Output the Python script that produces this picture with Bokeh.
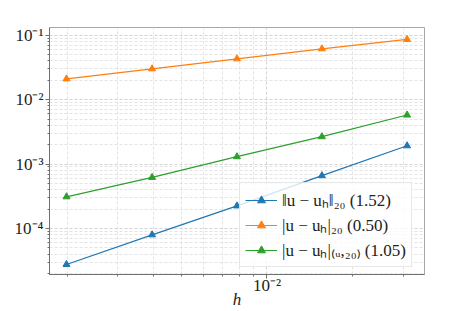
from bokeh.plotting import figure
from bokeh.models import FixedTicker, CustomJSTickFormatter, Range1d
from bokeh.embed import file_html
from bokeh.resources import INLINE

# ---- data ----
h = [0.001984, 0.003958, 0.00785, 0.01558, 0.03097]
err_l2 = [2.76e-5, 7.96e-5, 2.24e-4, 6.6e-4, 1.92e-3]
err_semi = [0.0210, 0.0301, 0.0430, 0.0615, 0.0861]
err_energy = [3.1e-4, 6.2e-4, 1.30e-3, 2.66e-3, 5.77e-3]
series = [err_l2, err_semi, err_energy]
labels = ["\u2016u \u2212 u\u2095\u2016\u2082\u2080 (1.52)",
          "|u \u2212 u\u2095|\u2082\u2080 (0.50)",
          "|u \u2212 u\u2095|\u208d\u1d64,\u2082\u2080\u208e (1.05)"]
colors = ["#1f77b4", "#ff7f0e", "#2ca02c"]
x_label = "h"

x_lo, x_hi = 10 ** -2.762, 10 ** -1.448
y_lo, y_hi = 10 ** -4.715, 10 ** -0.88

FONT = "Liberation Serif"

p = figure(width=457, height=311, x_axis_type="log", y_axis_type="log",
           x_range=Range1d(x_lo, x_hi), y_range=Range1d(y_lo, y_hi),
           output_backend="svg", toolbar_location=None,
           min_border_left=49, min_border_right=33,
           min_border_top=27, min_border_bottom=37)

# ticks
x_major = [1e-2]
x_minor = [k * 10.0 ** e for e in (-3, -2) for k in range(2, 10)]
y_major = [1e-4, 1e-3, 1e-2, 1e-1]
y_minor = [k * 10.0 ** e for e in (-5, -4, -3, -2, -1) for k in range(2, 10)]
p.xaxis.ticker = FixedTicker(ticks=x_major, minor_ticks=x_minor)
p.yaxis.ticker = FixedTicker(ticks=y_major, minor_ticks=y_minor)

fmt = CustomJSTickFormatter(code="""
const e = Math.round(Math.log10(tick));
const sup = {"-":"\u207b","0":"\u2070","1":"\u00b9","2":"\u00b2","3":"\u00b3","4":"\u2074","5":"\u2075","6":"\u2076","7":"\u2077","8":"\u2078","9":"\u2079"};
return "10" + String(e).split("").map(c => sup[c]).join("");
""")
p.xaxis.formatter = fmt
p.yaxis.formatter = fmt

for ax in (p.xaxis, p.yaxis):
    ax.major_label_text_font = FONT
    ax.major_label_text_font_size = "17px"
    ax.major_label_text_color = "#222222"
    ax.axis_line_color = "#707070"
    ax.major_tick_line_color = "#707070"
    ax.minor_tick_line_color = "#707070"
    ax.major_tick_in = 0
    ax.major_tick_out = 4
    ax.minor_tick_in = 0
    ax.minor_tick_out = 2
    ax.major_label_standoff = 2

p.xaxis.axis_label = x_label
p.xaxis.axis_label_text_font = FONT
p.xaxis.axis_label_text_font_style = "italic"
p.xaxis.axis_label_text_font_size = "17px"
p.xaxis.axis_label_text_color = "#222222"
p.xaxis.axis_label_standoff = -8
p.xaxis.major_label_standoff = -3

p.outline_line_color = "#a8a8a8"

for g in (p.xgrid, p.ygrid):
    g.grid_line_color = "#c8c8c8"
    g.grid_line_dash = "3 2"
    g.grid_line_width = 0.8
    g.minor_grid_line_color = "#d8d8d8"
    g.minor_grid_line_dash = "3 2"
    g.minor_grid_line_width = 0.7

for ys, c, lab in zip(series, colors, labels):
    p.line(h, ys, line_color=c, line_width=1.2, legend_label=lab)
    p.scatter(h, ys, marker="triangle", size=7, fill_color=c, line_color=c,
              legend_label=lab)

lg = p.legend[0]
lg.location = (190, 7)
lg.label_text_font = FONT
lg.label_text_font_size = "17px"
lg.label_text_color = "#222222"
lg.background_fill_alpha = 0.8
lg.border_line_color = "#d0d0d0"
lg.spacing = 2
lg.padding = 5
lg.glyph_width = 32

open("out.html", "w").write(file_html(p, INLINE))
